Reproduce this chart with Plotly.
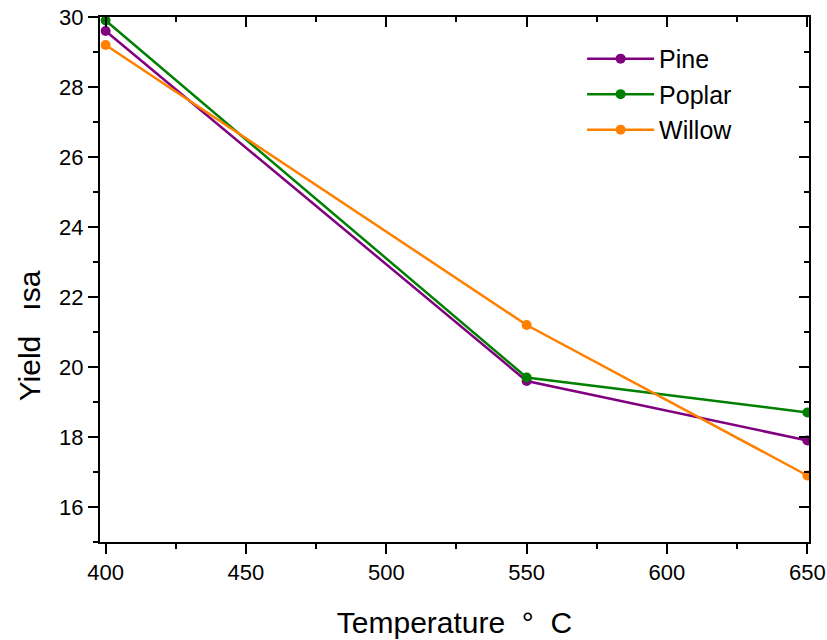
import plotly.graph_objects as go

temperature = [400, 550, 650]
pine = [29.6, 19.6, 17.9]
poplar = [29.9, 19.7, 18.7]
willow = [29.2, 21.2, 16.9]

series = [("Pine", pine, "#800080"), ("Poplar", poplar, "#008000"), ("Willow", willow, "#FF8000")]

fig = go.Figure()
for name, vals, col in series:
    fig.add_trace(go.Scatter(x=temperature, y=vals, name=name, mode="lines+markers",
                             line=dict(color=col, width=2.5),
                             marker=dict(color=col, size=10)))
# helper trace to create mirrored inner-tick axes
fig.add_trace(go.Scatter(x=[], y=[], xaxis="x2", yaxis="y2", showlegend=False, hoverinfo="skip"))

xr = [398, 650.6]
yr = [15, 30]
font = "Liberation Sans, Arial, sans-serif"
nb = "\u00a0"

fig.update_layout(
    width=827, height=640,
    margin=dict(l=100, r=18, t=17, b=98),
    paper_bgcolor="white", plot_bgcolor="white",
    font=dict(family=font, color="black", size=20),
    showlegend=True,
    legend=dict(x=0.68, y=0.964, xanchor="left", yanchor="top",
                font=dict(size=25), bgcolor="rgba(0,0,0,0)", tracegroupgap=0, itemwidth=67),
    xaxis=dict(range=xr, showgrid=False, zeroline=False, showline=True, linecolor="black", linewidth=2,
               automargin=False, ticklabeloverflow="allow",
               ticks="outside", ticklen=10, tickwidth=2, tickcolor="black", dtick=50, tick0=400,
               minor=dict(ticks="outside", ticklen=5, tickwidth=2, tickcolor="black", dtick=25, tick0=400),
               tickfont=dict(size=22),
               title=dict(text="Temperature" + nb * 2 + "°" + nb * 2 + "C", font=dict(size=30), standoff=28)),
    yaxis=dict(range=yr, showgrid=False, zeroline=False, showline=True, linecolor="black", linewidth=2,
               automargin=False, ticklabeloverflow="allow",
               ticks="outside", ticklen=10, tickwidth=2, tickcolor="black", dtick=2, tick0=16,
               minor=dict(ticks="outside", ticklen=5, tickwidth=2, tickcolor="black", dtick=1, tick0=15),
               tickfont=dict(size=22)),
    xaxis2=dict(range=xr, overlaying="x", side="top", anchor="y2", showgrid=False, zeroline=False,
                automargin=False,
                showline=True, linecolor="black", linewidth=2, showticklabels=False,
                ticks="inside", ticklen=10, tickwidth=2, tickcolor="black", dtick=50, tick0=400,
                minor=dict(ticks="inside", ticklen=5, tickwidth=2, tickcolor="black", dtick=25, tick0=400)),
    yaxis2=dict(range=yr, overlaying="y", side="right", anchor="x2", showgrid=False, zeroline=False,
                automargin=False,
                showline=True, linecolor="black", linewidth=2, showticklabels=False,
                ticks="inside", ticklen=10, tickwidth=2, tickcolor="black", dtick=2, tick0=16,
                minor=dict(ticks="inside", ticklen=5, tickwidth=2, tickcolor="black", dtick=1, tick0=15)),
    annotations=[dict(text="Yield" + nb * 3 + "ısa", textangle=-90, xref="paper", yref="paper",
                      x=-0.1, y=0.392, xanchor="center", yanchor="middle", showarrow=False,
                      font=dict(size=30, family=font, color="black"))],
)

fig.write_html("out.html", config={"displayModeBar": False},
               post_script="document.body.style.margin='0';document.body.style.overflow='hidden';")
